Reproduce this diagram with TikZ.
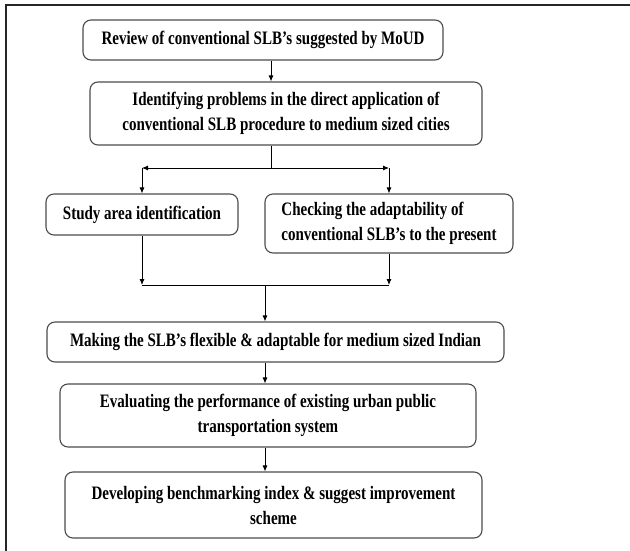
\documentclass[tikz,border=0pt]{standalone}
\usepackage{fontspec}
\setmainfont[FakeStretch=0.79]{Liberation Serif}
\usetikzlibrary{positioning}
\usetikzlibrary{arrows.meta,calc}

\begin{document}
\begin{tikzpicture} [
    x=1pt, y=-1pt,
    block/.style = { rectangle, draw=black!70, line width=1.1pt,
                     rounded corners=8pt, align=center, inner sep=0pt,
                     font=\bfseries\fontsize{19}{25}\selectfont },
    line/.style  = { draw, line width=0.9pt, -{Latex[length=6pt,width=5pt]} },
  ]
  \useasboundingbox (0,0) rectangle (630,551);
  % outer frame
  \draw[line width=2pt, black!85] (6,551) -- (6,5) -- (630,5);

  \node (review) [block, minimum width=360pt, minimum height=40pt] at (263,40)
        {Review of conventional SLB’s suggested by MoUD};
  \node (problems) [block, minimum width=392pt, minimum height=63pt] at (286,113.5)
        {Identifying problems in the direct application of\\
         conventional SLB procedure to medium sized cities};
  \node (study) [block, minimum width=192pt, minimum height=41pt] at (142,214.5)
        {Study area identification};
  \node (check) [block, minimum width=248pt, minimum height=59pt, align=left] at (389,223.5)
        {Checking the adaptability of\\
         conventional SLB’s to the present};
  \node (flexible) [block, minimum width=457pt, minimum height=40pt] at (275.5,342)
        {Making the SLB’s flexible \& adaptable for medium sized Indian};
  \node (evaluate) [block, minimum width=416pt, minimum height=63pt] at (268,415.5)
        {Evaluating the performance of existing urban public\\
         transportation system};
  \node (develop) [block, minimum width=417pt, minimum height=66pt] at (273.5,505)
        {Developing benchmarking index \& suggest improvement\\
         scheme};

  \coordinate (split) at (271,168);
  \coordinate (join) at (265,285);

  % connect nodes
  \begin{scope}[every path/.style=line]
  \path (review.south -| split) -- (problems.north -| split);
  \path (split) -- (split -| study.north);
  \path (split) -- (split -| check.north);
  \path (split -| study.north) -- (study.north);
  \path (split -| check.north) -- (check.north);
  \path (study.south) -- (study.south |- join);
  \path (check.south) -- (check.south |- join);
  \path (join) -- (flexible.north -| join);
  \path (flexible.south -| join) -- (evaluate.north -| join);
  \path (evaluate.south -| join) -- (develop.north -| join);
  \end{scope}
  \draw[line width=0.9pt] (problems.south -| split) -- (split);
  \draw[line width=0.9pt] (study.south |- join) -- (check.south |- join);

\end{tikzpicture}
\end{document}
